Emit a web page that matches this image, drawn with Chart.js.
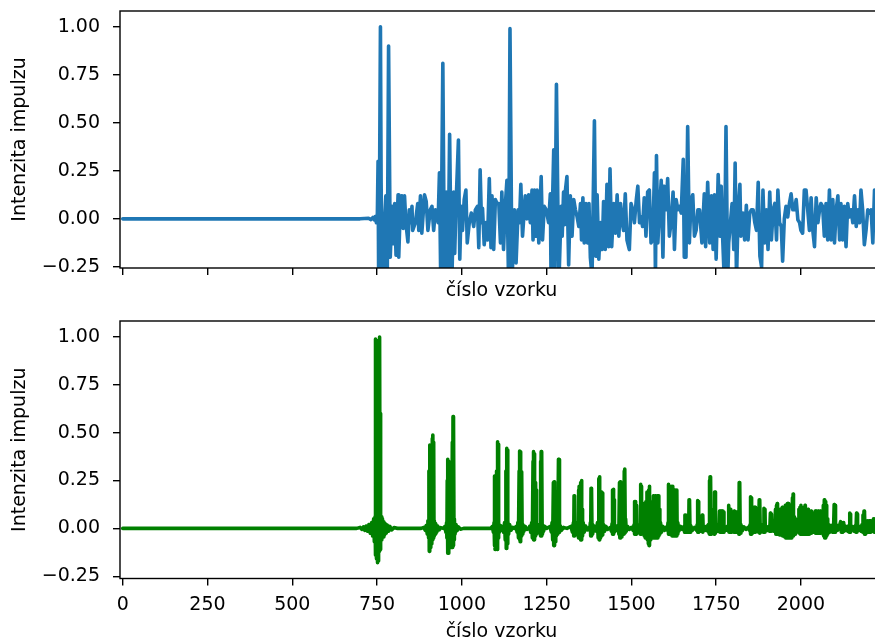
<!DOCTYPE html>
<html>
<head>
<meta charset="utf-8">
<script src="https://cdn.jsdelivr.net/npm/chart.js@4.4.0/dist/chart.umd.min.js"></script>
<style>
  html, body { margin: 0; padding: 0; background: #fff; overflow: hidden; width: 875px; height: 644px; }
  canvas { position: absolute; left: 0; }
  #top { top: 0; }
  #bottom { top: 300px; }
</style>
</head>
<body>
<canvas id="top" width="890" height="305"></canvas>
<canvas id="bottom" width="890" height="344"></canvas>
<script>
// tick labels
const xTicks = [0, 250, 500, 750, 1000, 1250, 1500, 1750, 2000];
const yTicks = [-0.25, 0, 0.25, 0.5, 0.75, 1.0];

// top: measured impulse response [sample, value]
const blueSeries = [
  [0,0],[700,0],[725,0.003],[732,-0.004],[738,0.007],[742,-0.006],[745,0.012],[748,-0.02],[751,0.03],
  [753,0.30],[755,-0.40],[757,0.05],[760,1.00],[762,0.19],[765,-0.40],[769,-0.32],[773,0.02],[776,0.12],[780,-0.35],
  [784,0.90],[789,-0.20],[794,0.065],[799,-0.13],[802,0.08],[806,-0.19],[812,0.125],[814,-0.20],[819,0.09],[823,0.12],
  [827,-0.05],[831,0.12],[835,-0.02],[841,-0.12],[845,0.047],[849,-0.02],[853,0.065],[855,-0.06],[863,-0.02],[870,0.08],
  [873,-0.06],[878,0.12],[882,-0.075],[890,0.125],[895,0.09],[900,-0.06],[907,0.047],[912,0.065],[917,-0.06],[922,0.047],
  [927,0.03],[930,-0.02],[934,0.24],[938,-0.35],[944,0.81],[949,-0.40],[954,0.14],[959,-0.35],[964,0.44],[968,-0.14],
  [971,-0.30],[976,0.14],[979,-0.18],[983,0.08],[990,0.41],[994,-0.21],[998,0.065],[1002,-0.06],[1007,0.10],[1012,0.15],
  [1016,-0.125],[1022,-0.02],[1028,0.03],[1035,-0.04],[1040,0.047],[1046,0.065],[1050,-0.15],[1054,0.255],[1058,-0.02],
  [1061,0.055],[1066,-0.135],[1071,-0.02],[1076,-0.11],[1081,0.21],[1086,-0.15],[1089,0.12],[1094,-0.16],[1099,0.10],
  [1104,0.08],[1109,0.08],[1114,-0.125],[1118,0.14],[1123,-0.16],[1128,0.065],[1133,0.20],[1138,-0.35],[1142,0.99],
  [1148,-0.33],[1155,0.047],[1160,-0.23],[1166,0.047],[1170,-0.02],[1174,0.18],[1179,-0.09],[1187,0.12],[1192,0.0],
  [1197,0.125],[1202,-0.02],[1207,0.15],[1210,-0.11],[1214,0.15],[1219,-0.09],[1222,0.15],[1227,-0.125],[1234,0.22],
  [1238,-0.11],[1243,0.065],[1249,0.047],[1256,-0.02],[1261,0.13],[1263,-0.30],[1267,0.05],[1271,0.36],[1274,-0.30],
  [1279,0.70],[1286,-0.35],[1293,0.065],[1296,-0.09],[1300,0.14],[1303,-0.03],[1305,0.14],[1310,0.22],[1315,-0.24],
  [1320,0.12],[1325,-0.09],[1330,0.10],[1335,0.047],[1340,0.01],[1345,-0.04],[1350,0.08],[1353,-0.11],[1357,0.11],
  [1361,-0.125],[1366,0.08],[1371,-0.125],[1375,0.08],[1379,-0.20],[1384,-0.30],[1391,0.51],[1395,-0.195],[1399,0.125],
  [1404,-0.21],[1409,-0.02],[1414,-0.16],[1418,0.09],[1423,-0.16],[1428,0.18],[1433,-0.145],[1437,0.26],[1442,-0.145],
  [1448,0.08],[1453,-0.075],[1458,0.125],[1463,-0.09],[1468,0.08],[1473,-0.02],[1477,-0.06],[1482,0.13],[1487,-0.11],
  [1494,-0.16],[1499,0.08],[1504,0.047],[1509,-0.02],[1514,0.09],[1519,0.17],[1524,-0.02],[1529,0.01],[1533,-0.04],
  [1538,0.11],[1543,-0.09],[1548,0.14],[1553,0.15],[1558,-0.125],[1563,-0.11],[1568,0.24],[1571,-0.30],[1574,0.33],
  [1578,-0.125],[1583,0.047],[1588,0.20],[1593,-0.20],[1597,0.17],[1602,0.047],[1607,0.21],[1612,-0.09],[1617,-0.02],
  [1623,0.14],[1627,-0.16],[1632,0.10],[1637,0.047],[1642,0.065],[1647,0.03],[1653,0.31],[1656,-0.20],[1658,0.05],
  [1661,-0.20],[1666,0.48],[1671,-0.125],[1676,0.10],[1681,0.125],[1686,-0.09],[1691,-0.06],[1696,0.047],[1701,0.047],
  [1708,-0.125],[1715,0.13],[1719,-0.145],[1725,0.19],[1731,-0.125],[1736,0.12],[1741,-0.16],[1745,0.125],[1750,-0.21],
  [1756,0.23],[1761,-0.09],[1765,0.17],[1769,-0.09],[1774,-0.32],[1779,0.48],[1784,-0.32],[1787,-0.125],[1792,-0.02],
  [1797,0.08],[1802,-0.16],[1806,0.29],[1810,-0.32],[1815,0.047],[1820,0.18],[1823,-0.09],[1829,0.03],[1834,-0.11],
  [1839,0.07],[1844,-0.11],[1849,0.03],[1854,0.047],[1859,0.047],[1864,-0.02],[1869,-0.06],[1874,0.19],[1879,-0.195],
  [1884,-0.25],[1888,0.15],[1893,-0.125],[1898,0.047],[1903,-0.16],[1908,0.14],[1913,-0.11],[1918,0.047],[1923,0.08],
  [1928,-0.11],[1932,0.15],[1937,-0.02],[1942,-0.04],[1946,-0.22],[1951,0.0],[1956,0.065],[1961,0.01],[1966,0.08],
  [1971,0.13],[1976,0.047],[1981,0.047],[1986,0.10],[1991,-0.005],[1996,-0.02],[2000,-0.06],[2005,-0.075],[2010,0.15],
  [2015,0.15],[2020,0.047],[2025,-0.06],[2030,0.11],[2035,-0.06],[2040,-0.145],[2045,0.11],[2050,-0.02],[2055,0.047],
  [2059,0.08],[2064,0.065],[2069,-0.09],[2074,0.08],[2079,-0.11],[2084,0.15],[2089,-0.11],[2094,0.10],[2099,-0.125],
  [2104,0.047],[2109,0.12],[2114,-0.11],[2118,0.08],[2123,-0.11],[2128,0.065],[2133,-0.145],[2138,0.08],[2143,0.01],
  [2148,0.047],[2153,-0.02],[2158,0.12],[2163,-0.04],[2168,0.047],[2173,-0.02],[2177,0.15],[2182,0.047],[2187,-0.135],
  [2192,-0.06],[2197,0.047],[2202,0.03],[2207,0.047],[2212,-0.125],[2217,0.15],[2222,-0.05],[2228,0.10],[2234,-0.08],[2240,0.06]
];

// bottom: simulated impulse response [sample, value]
const greenSeries = [
  [0,0],[690,0],[700,0.005],[705,-0.005],[710,0.008],[714,-0.01],[718,0.012],[722,-0.015],[726,0.02],[730,-0.025],
  [734,0.03],[737,-0.04],[740,0.05],[742,-0.07],[744,0.06],[745,-0.14],[746,0.99],[747,-0.10],[748,0.9],[749,-0.16],
  [750,0.98],[751,-0.18],[752,0.95],[753,-0.17],[754,0.97],[755,-0.14],[756,0.98],[757,-0.12],[758,1.0],[759,-0.11],
  [760,0.6],[761,-0.08],[762,0.06],[764,-0.06],[766,0.05],[768,-0.045],[770,0.035],[772,-0.035],[774,0.025],[777,-0.025],
  [780,0.018],[784,-0.015],[788,0.01],[793,-0.008],[800,0.004],[810,0],[880,0],
  [888,0.005],[892,-0.01],[895,0.015],[898,-0.03],[900,0.04],[902,-0.05],[903,0.3],[904,-0.12],[905,0.436],[906,-0.12],
  [907,0.43],[908,-0.10],[909,0.436],[910,-0.07],[911,0.3],[912,-0.08],[913,0.47],[914,-0.06],[915,0.488],[916,-0.05],
  [917,0.45],[918,-0.04],[919,0.04],[921,-0.03],[923,0.025],[926,-0.02],[929,0.012],[933,-0.008],[938,0.004],[945,0],
  [950,0.01],[953,-0.02],[955,0.03],[956,-0.05],[957,0.25],[958,-0.13],[959,0.361],[960,-0.13],[961,0.35],[962,-0.12],
  [963,0.1],[965,-0.08],[967,0.05],[969,-0.06],[970,0.3],[971,-0.10],[972,0.45],[973,-0.10],[974,0.584],[975,-0.09],
  [976,0.56],[977,-0.06],[978,0.05],[980,-0.03],[983,0.02],[986,-0.012],[990,0.008],[996,-0.004],[1005,0],[1085,0],
  [1090,0.01],[1093,-0.02],[1095,0.03],[1096,-0.09],[1097,0.274],[1098,-0.11],[1099,0.27],[1100,-0.11],[1101,0.05],
  [1102,-0.05],[1103,0.3],[1104,-0.11],[1105,0.453],[1106,-0.1],[1107,0.44],[1108,-0.05],[1109,0.03],[1111,-0.02],
  [1114,0.015],[1117,-0.01],[1120,0.01],[1123,-0.02],[1126,0.03],[1128,-0.06],[1130,0.3],[1131,-0.105],[1132,0.418],
  [1133,-0.1],[1134,0.41],[1135,-0.08],[1136,0.04],[1138,-0.03],[1141,0.02],[1145,-0.01],[1150,0.005],[1155,0],
  [1160,0.01],[1163,-0.02],[1165,0.03],[1167,-0.05],[1169,0.3],[1170,-0.06],[1171,0.404],[1172,-0.07],[1173,0.40],
  [1174,-0.05],[1175,0.296],[1176,-0.04],[1177,0.29],[1178,-0.03],[1180,0.02],[1183,-0.015],[1187,0.01],[1192,-0.005],
  [1198,0],[1200,0.01],[1203,-0.02],[1206,0.03],[1208,-0.05],[1210,0.35],[1211,-0.06],[1212,0.401],[1213,-0.06],
  [1214,0.39],[1215,-0.05],[1216,0.24],[1217,-0.04],[1218,0.235],[1219,-0.03],[1220,0.2],[1221,-0.02],[1223,0.02],
  [1226,-0.015],[1229,0.02],[1231,-0.03],[1232,0.35],[1233,-0.04],[1234,0.401],[1235,-0.04],[1236,0.39],[1237,-0.03],
  [1238,0.02],[1241,-0.015],[1245,0.01],[1250,0],[1260,0.01],[1264,-0.02],[1266,0.03],[1268,-0.06],[1270,0.24],
  [1271,-0.09],[1272,0.244],[1273,-0.09],[1274,0.2],[1275,-0.07],[1277,0.04],[1279,-0.04],[1281,0.03],[1283,-0.03],
  [1285,0.361],[1286,-0.02],[1287,0.36],[1288,-0.02],[1290,0.015],[1294,-0.01],[1300,0.005],[1310,0],
  [1322,0.01],[1326,-0.02],[1329,0.03],[1330,-0.04],[1331,0.17],[1332,-0.04],[1333,0.165],[1334,-0.03],[1336,0.02],
  [1339,-0.02],[1341,0.03],[1343,-0.04],[1344,0.2],[1345,-0.05],[1346,0.22],[1347,-0.05],[1349,0.05],[1350,-0.06],
  [1351,0.24],[1352,-0.06],[1353,0.25],[1354,-0.05],[1355,0.1],[1356,-0.04],[1358,0.03],[1361,-0.02],[1365,0.012],
  [1370,-0.008],[1375,0.004],[1377,-0.01],[1379,0.03],[1380,-0.04],[1381,0.21],[1382,-0.04],[1383,0.2],[1384,-0.03],
  [1386,0.02],[1389,-0.015],[1393,0.01],[1397,-0.015],[1400,0.03],[1402,-0.05],[1404,0.26],[1405,-0.06],[1406,0.27],
  [1407,-0.06],[1408,0.1],[1409,-0.05],[1411,0.05],[1412,-0.04],[1413,0.19],[1414,-0.035],[1415,0.185],[1416,-0.03],
  [1418,0.02],[1421,-0.015],[1425,0.01],[1430,-0.005],[1438,0.005],[1441,-0.015],[1443,0.025],[1444,-0.03],[1445,0.2],
  [1446,-0.03],[1447,0.204],[1448,-0.03],[1449,0.15],[1450,-0.02],[1453,0.015],[1457,-0.01],[1461,0.015],[1463,-0.03],
  [1465,0.24],[1466,-0.05],[1467,0.244],[1468,-0.05],[1469,0.2],[1470,-0.045],[1472,0.04],[1474,-0.03],[1476,0.03],
  [1478,-0.03],[1479,0.3],[1480,-0.025],[1481,0.31],[1482,-0.02],[1483,0.05],[1485,-0.015],[1489,0.01],[1494,-0.005],
  [1500,0.005],[1505,-0.01],[1508,0.02],[1509,-0.03],[1510,0.14],[1511,-0.03],[1512,0.14],[1513,-0.03],[1514,0.12],
  [1515,-0.03],[1516,0.12],[1517,-0.02],[1519,0.02],[1522,-0.015],[1525,0.02],[1526,-0.03],[1527,0.23],[1528,-0.03],
  [1529,0.22],[1530,-0.03],[1532,0.03],[1535,-0.03],[1537,0.13],[1538,-0.04],[1540,0.12],[1541,-0.05],[1543,0.14],
  [1544,-0.05],[1546,0.19],[1547,-0.06],[1549,0.15],[1550,-0.08],[1551,0.2],[1552,-0.09],[1553,0.22],[1554,-0.08],
  [1556,0.13],[1557,-0.06],[1559,0.12],[1560,-0.05],[1562,0.14],[1563,-0.05],[1565,0.17],[1566,-0.05],[1568,0.15],
  [1569,-0.05],[1571,0.17],[1572,-0.05],[1574,0.16],[1575,-0.05],[1577,0.17],[1578,-0.05],[1580,0.17],[1581,-0.04],
  [1583,0.1],[1584,-0.03],[1586,0.03],[1589,-0.02],[1593,0.01],[1598,-0.01],[1602,0.005],[1606,-0.01],[1608,0.03],
  [1609,-0.03],[1610,0.23],[1611,-0.03],[1613,0.22],[1614,-0.03],[1616,0.21],[1617,-0.035],[1619,0.22],[1620,-0.04],
  [1622,0.22],[1623,-0.04],[1625,0.2],[1626,-0.04],[1628,0.2],[1629,-0.04],[1631,0.2],[1632,-0.04],[1634,0.2],
  [1635,-0.03],[1637,0.03],[1640,-0.015],[1645,0.01],[1650,-0.005],[1655,0.01],[1657,-0.02],[1658,0.07],[1659,-0.02],
  [1660,0.07],[1661,-0.02],[1663,0.02],[1666,-0.02],[1668,0.03],[1669,-0.02],[1670,0.15],[1671,-0.02],[1672,0.14],
  [1673,-0.02],[1675,0.015],[1680,-0.01],[1686,0.005],[1692,-0.01],[1694,0.02],[1695,-0.02],[1696,0.145],[1697,-0.02],
  [1698,0.14],[1699,-0.02],[1701,0.02],[1704,-0.015],[1707,0.01],[1709,0.07],[1710,-0.02],[1711,0.07],[1712,-0.015],
  [1715,0.01],[1718,-0.01],[1722,0.01],[1725,-0.015],[1727,0.02],[1729,-0.025],[1730,0.25],[1731,-0.03],[1732,0.27],
  [1733,-0.03],[1734,0.27],[1735,-0.03],[1736,0.1],[1737,-0.025],[1739,0.02],[1741,-0.02],[1743,0.02],[1744,-0.03],
  [1745,0.19],[1746,-0.03],[1747,0.19],[1748,-0.025],[1750,0.02],[1753,-0.015],[1756,0.01],[1758,-0.015],[1760,0.09],
  [1761,-0.02],[1763,0.09],[1764,-0.02],[1766,0.09],[1767,-0.02],[1769,0.09],[1770,-0.02],[1772,0.085],[1773,-0.02],
  [1775,0.01],[1779,-0.01],[1783,0.01],[1786,-0.015],[1787,0.12],[1788,-0.02],[1790,0.1],[1791,-0.02],[1793,0.1],
  [1794,-0.02],[1796,0.02],[1799,-0.015],[1801,0.02],[1802,-0.02],[1803,0.09],[1804,-0.02],[1806,0.085],[1807,-0.02],
  [1809,0.085],[1810,-0.02],[1812,0.02],[1814,-0.02],[1816,0.03],[1817,-0.03],[1818,0.24],[1819,-0.03],[1820,0.235],
  [1821,-0.025],[1823,0.02],[1827,-0.012],[1832,0.008],[1838,-0.005],[1844,0.005],[1848,-0.01],[1850,0.02],[1851,-0.03],
  [1852,0.165],[1853,-0.03],[1854,0.16],[1855,-0.03],[1856,0.1],[1857,-0.025],[1859,0.03],[1860,-0.02],[1862,0.11],
  [1863,-0.02],[1865,0.11],[1866,-0.02],[1868,0.02],[1871,-0.015],[1874,0.02],[1875,-0.02],[1877,0.15],[1878,-0.025],
  [1879,0.15],[1880,-0.02],[1882,0.02],[1885,-0.01],[1888,0.015],[1889,-0.02],[1891,0.105],[1892,-0.02],[1894,0.1],
  [1895,-0.015],[1898,0.01],[1902,-0.01],[1906,0.01],[1908,-0.015],[1910,0.08],[1911,-0.015],[1912,0.075],[1913,-0.015],
  [1916,0.01],[1920,-0.015],[1923,0.02],[1925,0.1],[1926,-0.03],[1928,0.12],[1929,-0.03],[1930,0.13],[1931,-0.03],
  [1933,0.09],[1934,-0.03],[1936,0.09],[1937,-0.035],[1939,0.1],[1940,-0.035],[1942,0.1],[1943,-0.035],[1945,0.11],
  [1946,-0.04],[1948,0.1],[1949,-0.04],[1951,0.11],[1952,-0.045],[1954,0.12],[1955,-0.05],[1957,0.12],[1958,-0.05],
  [1960,0.13],[1961,-0.05],[1963,0.13],[1964,-0.05],[1966,0.08],[1967,-0.05],[1969,0.1],[1970,-0.05],[1972,0.12],
  [1973,-0.05],[1975,0.16],[1976,-0.04],[1977,0.18],[1978,-0.04],[1980,0.06],[1981,-0.03],[1983,0.05],[1984,-0.03],
  [1986,0.03],[1988,-0.02],[1992,0.01],[1994,0.1],[1995,-0.025],[1997,0.11],[1998,-0.03],[2000,0.12],[2001,-0.03],
  [2003,0.1],[2004,-0.03],[2006,0.09],[2007,-0.03],[2009,0.11],[2010,-0.03],[2012,0.12],[2013,-0.03],[2015,0.1],
  [2016,-0.03],[2018,0.09],[2019,-0.03],[2021,0.1],[2022,-0.03],[2024,0.09],[2025,-0.03],[2027,0.08],[2028,-0.025],
  [2030,0.09],[2031,-0.025],[2033,0.08],[2034,-0.02],[2037,0.02],[2040,-0.02],[2042,0.09],[2043,-0.025],[2045,0.09],
  [2046,-0.025],[2048,0.08],[2049,-0.025],[2051,0.09],[2052,-0.025],[2054,0.08],[2055,-0.025],[2057,0.09],[2058,-0.025],
  [2060,0.07],[2061,-0.02],[2063,0.02],[2065,-0.03],[2066,0.12],[2067,-0.04],[2069,0.15],[2070,-0.05],[2072,0.14],
  [2073,-0.05],[2075,0.12],[2076,-0.04],[2078,0.05],[2079,-0.03],[2082,0.02],[2085,-0.02],[2089,0.015],[2093,-0.02],
  [2095,0.02],[2096,-0.02],[2098,0.125],[2099,-0.02],[2101,0.12],[2102,-0.02],[2104,0.02],[2108,-0.01],[2113,0.01],
  [2117,0.035],[2119,-0.02],[2121,0.03],[2123,-0.02],[2126,0.03],[2128,-0.015],[2133,0.01],[2138,-0.015],[2141,0.015],
  [2142,-0.02],[2144,0.08],[2145,-0.02],[2146,0.075],[2147,-0.015],[2152,0.01],[2157,-0.015],[2161,0.015],[2162,-0.02],
  [2164,0.08],[2165,-0.02],[2166,0.075],[2167,-0.015],[2172,0.01],[2177,-0.015],[2180,0.02],[2182,-0.02],[2183,0.07],
  [2184,-0.02],[2186,0.09],[2187,-0.03],[2188,0.08],[2189,-0.03],[2191,0.03],[2194,-0.02],[2196,0.04],[2198,-0.02],
  [2200,0.04],[2202,-0.02],[2204,0.04],[2206,-0.02],[2208,0.03],[2211,-0.015],[2214,0.05],[2216,-0.02],[2218,0.05],
  [2220,-0.02],[2224,0.03],[2228,-0.01],[2234,0.02],[2240,-0.01]
];

const FONT = { family: 'DejaVu Sans', size: 19 };

// black box around the plot area, like matplotlib spines
const frame = {
  id: 'frame',
  afterDatasetsDraw(chart) {
    const { ctx, chartArea: a } = chart;
    ctx.save();
    ctx.strokeStyle = '#000';
    ctx.lineWidth = 1.4;
    ctx.strokeRect(a.left, a.top, a.right - a.left, a.bottom - a.top);
    ctx.restore();
  }
};

function makeChart(id, series, color, opts) {
  const ctx = document.getElementById(id).getContext('2d');
  return new Chart(ctx, {
    type: 'line',
    data: {
      datasets: [{
        data: series.map(p => ({ x: p[0], y: p[1] })),
        borderColor: color,
        borderWidth: 3.6,
        borderJoinStyle: 'round',
        borderCapStyle: 'round',
        pointRadius: 0,
        tension: 0,
        fill: false,
        clip: 0,
      }],
    },
    options: {
      responsive: false,
      animation: false,
      devicePixelRatio: 1,
      layout: { padding: { top: opts.padTop, right: 7, left: 0, bottom: 0 } },
      plugins: { legend: { display: false }, tooltip: { enabled: false } },
      scales: {
        x: {
          type: 'linear',
          min: -8,
          max: 2242,
          afterBuildTicks: s => { s.ticks = xTicks.map(v => ({ value: v })); },
          afterFit: s => { s.height = opts.xHeight; s.paddingLeft = 0; s.paddingRight = 0; },
          ticks: {
            display: opts.xLabels,
            color: '#000',
            font: FONT,
            padding: 8,
            maxRotation: 0,
            callback: v => String(v),
          },
          grid: { drawOnChartArea: false, drawTicks: true, tickLength: 7, color: '#000', lineWidth: 1.4 },
          border: { display: false },
          title: { display: true, text: 'číslo vzorku', color: '#000', font: FONT, padding: { top: 0, bottom: opts.titlePad } },
        },
        y: {
          min: opts.yMin,
          max: opts.yMax,
          afterBuildTicks: s => { s.ticks = yTicks.map(v => ({ value: v })); },
          afterFit: s => { s.width = 120; s.paddingTop = 0; s.paddingBottom = 0; },
          ticks: {
            color: '#000',
            font: FONT,
            padding: 13,
            callback: v => (v < 0 ? '\u2212' : '') + Math.abs(v).toFixed(2),
          },
          grid: { drawOnChartArea: false, drawTicks: true, tickLength: 7, color: '#000', lineWidth: 1.4 },
          border: { display: false },
          title: { display: true, text: 'Intenzita impulzu', color: '#000', font: FONT, padding: { top: 9, bottom: 0 } },
        },
      },
    },
    plugins: [frame],
  });
}

makeChart('top', blueSeries, '#1f77b4', { padTop: 11, xHeight: 37, xLabels: false, titlePad: 2.6, yMin: -0.256, yMax: 1.082 });
makeChart('bottom', greenSeries, '#008000', { padTop: 21, xHeight: 65.5, xLabels: true, titlePad: 0.6, yMin: -0.262, yMax: 1.084 });
</script>
</body>
</html>
